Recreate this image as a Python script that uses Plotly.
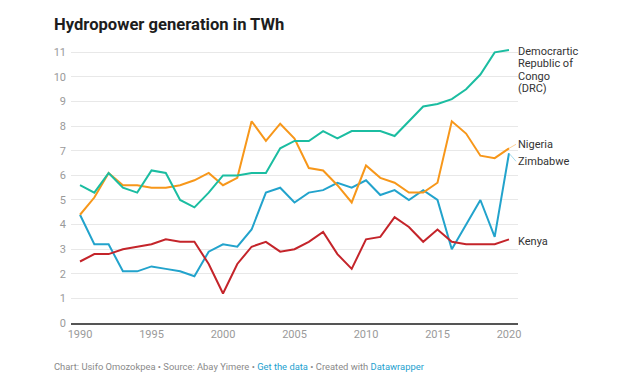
import plotly.graph_objects as go

years = list(range(1990, 2021))
drc = [5.6, 5.3, 6.1, 5.5, 5.3, 6.2, 6.1, 5.0, 4.7, 5.3, 6.0, 6.0, 6.1, 6.1, 7.1, 7.4,
       7.4, 7.8, 7.5, 7.8, 7.8, 7.8, 7.6, 8.2, 8.8, 8.9, 9.1, 9.5, 10.1, 11.0, 11.1]
nigeria = [4.4, 5.1, 6.1, 5.6, 5.6, 5.5, 5.5, 5.6, 5.8, 6.1, 5.6, 5.9, 8.2, 7.4, 8.1, 7.5,
           6.3, 6.2, 5.6, 4.9, 6.4, 5.9, 5.7, 5.3, 5.3, 5.7, 8.2, 7.7, 6.8, 6.7, 7.1]
zimbabwe = [4.4, 3.2, 3.2, 2.1, 2.1, 2.3, 2.2, 2.1, 1.9, 2.9, 3.2, 3.1, 3.8, 5.3, 5.5, 4.9,
            5.3, 5.4, 5.7, 5.5, 5.8, 5.2, 5.4, 5.0, 5.4, 5.0, 3.0, 4.0, 5.0, 3.5, 6.9]
kenya = [2.5, 2.8, 2.8, 3.0, 3.1, 3.2, 3.4, 3.3, 3.3, 2.4, 1.2, 2.4, 3.1, 3.3, 2.9, 3.0,
         3.3, 3.7, 2.8, 2.2, 3.4, 3.5, 4.3, 3.9, 3.3, 3.8, 3.3, 3.2, 3.2, 3.2, 3.4]

x_ticks = [1990, 1995, 2000, 2005, 2010, 2015, 2020]
y_ticks = list(range(0, 12))

title_text = "Hydropower generation in TWh"
footer_parts = ["Chart: Usifo Omozokpea • Source: Abay Yimere • ",
                "Get the data", " • Created with ", "Datawrapper"]

series = [
    ("Democrartic Republic of Congo (DRC)", drc, "#1bbda1"),
    ("Nigeria", nigeria, "#f7971a"),
    ("Zimbabwe", zimbabwe, "#22a3cc"),
    ("Kenya", kenya, "#c4242a"),
]

W, H = 640, 376
L, R, T, B = 71, 518, 45, 323


def pxx(px):
    return (px - L) / (R - L)


def pxy(py):
    return (B - py) / (B - T)


fig = go.Figure()
for name, vals, color in [series[2], series[3], series[1], series[0]]:
    fig.add_trace(go.Scatter(x=years, y=vals, mode="lines", name=name,
                             line=dict(color=color, width=2), hoverinfo="skip"))

FONT = "Roboto"
label_font = dict(family=FONT, size=11, color="#333333")
annotations = []

drc_lines = ["Democrartic", "Republic of", "Congo", "(DRC)"]
for i, t in enumerate(drc_lines):
    annotations.append(dict(x=years[-1], y=drc[-1], xref="x", yref="y", text=t,
                            showarrow=False, xanchor="left", yanchor="middle",
                            xshift=7, yshift=-1.6 - 12.4 * i, font=label_font))

annotations.append(dict(x=years[-1], y=nigeria[-1], xref="x", yref="y", text="Nigeria",
                        showarrow=True, arrowhead=0, arrowwidth=0.8, arrowcolor="#fbc580",
                        ax=7, ay=-4, axref="pixel", ayref="pixel",
                        xanchor="left", yanchor="middle", font=label_font))
annotations.append(dict(x=years[-1], y=zimbabwe[-1], xref="x", yref="y", text="Zimbabwe",
                        showarrow=True, arrowhead=0, arrowwidth=0.8, arrowcolor="#8bd0e6",
                        ax=7, ay=8, axref="pixel", ayref="pixel",
                        xanchor="left", yanchor="middle", font=label_font))
annotations.append(dict(x=years[-1], y=kenya[-1], xref="x", yref="y", text="Kenya",
                        showarrow=False, xanchor="left", yanchor="middle",
                        xshift=7, yshift=-2.4, font=label_font))

annotations.append(dict(x=pxx(52), y=pxy(24), xref="paper", yref="paper",
                        text="<b>" + title_text + "</b>", showarrow=False,
                        xanchor="left", yanchor="middle",
                        font=dict(family=FONT, size=16.6, color="#1d1d1d")))

footer_html = ('<span style="color:#8a8a8a">' + footer_parts[0] + '</span>'
               '<span style="color:#1d9fcf">' + footer_parts[1] + '</span>'
               '<span style="color:#8a8a8a">' + footer_parts[2] + '</span>'
               '<span style="color:#1d9fcf">' + footer_parts[3] + '</span>')
annotations.append(dict(x=pxx(52), y=pxy(366), xref="paper", yref="paper",
                        text=footer_html, showarrow=False,
                        xanchor="left", yanchor="middle",
                        font=dict(family=FONT, size=9.4, color="#8a8a8a")))

fig.update_layout(
    width=W, height=H,
    margin=dict(l=L, r=W - R, t=T, b=H - B, pad=0),
    paper_bgcolor="white", plot_bgcolor="white",
    showlegend=False,
    annotations=annotations,
    font=dict(family=FONT),
    xaxis=dict(range=[1989.37, 2020.63], tickvals=x_ticks, showgrid=False,
               zeroline=False, showline=True, linecolor="#555555", linewidth=2,
               ticks="", tickfont=dict(family=FONT, size=11, color="#9a9a9a"),
               fixedrange=True),
    yaxis=dict(range=[0, 11.3], tickvals=y_ticks, showgrid=True, gridcolor="#e8e8e8",
               gridwidth=1, zeroline=False, showline=False, ticks="",
               tickfont=dict(family=FONT, size=11, color="#9a9a9a"),
               ticklabelstandoff=4, fixedrange=True),
)

fig.write_html("out.html", config={"displayModeBar": False},
               post_script="document.body.style.margin='0';document.body.style.overflow='hidden';")
